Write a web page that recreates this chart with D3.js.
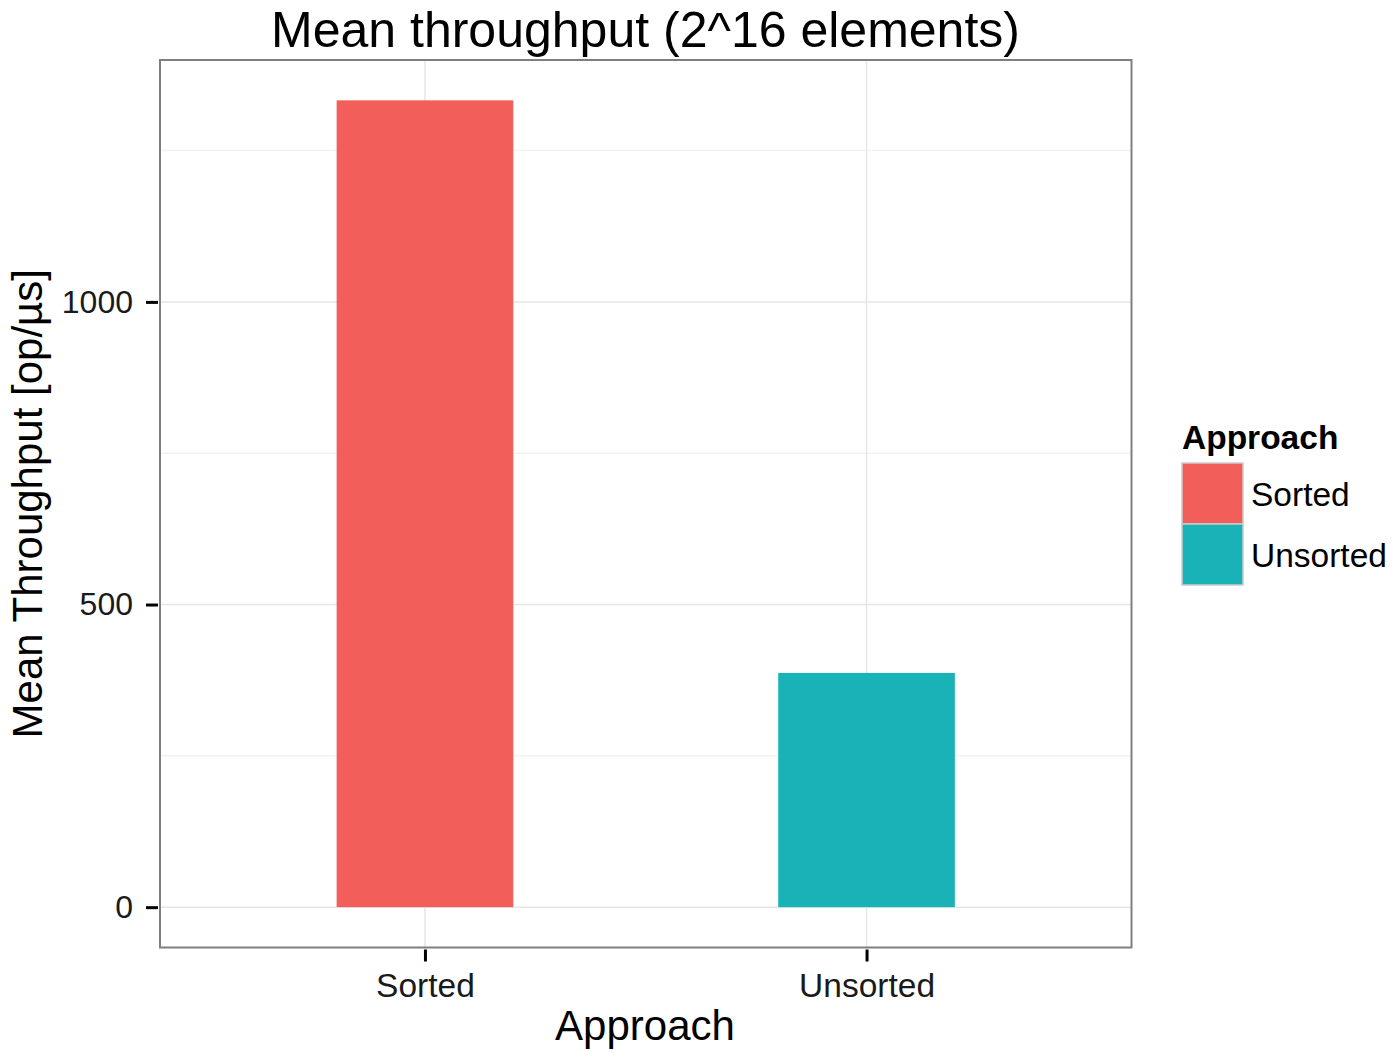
<!DOCTYPE html>
<html><head><meta charset="utf-8">
<script src="https://cdn.jsdelivr.net/npm/d3@7"></script>
<style>body{margin:0;background:#fff;} text{font-family:"Liberation Sans",Arial,sans-serif;}</style>
</head><body>
<svg id="chart" width="1393" height="1052"></svg>
<script>
const categories = ["Sorted", "Unsorted"];
const values = [1333, 387];
const colors = ["#F25F5A", "#19B3B7"];
const yTicks = [0, 500, 1000];
const yMinor = [250, 750, 1250];
const title = "Mean throughput (2^16 elements)";
const xTitle = "Approach";
const yTitle = "Mean Throughput [op/µs]";
const legendTitle = "Approach";

const svg = d3.select("#chart");
const L = 160, R = 1131.5, T = 60, B = 947.5;

const maxV = d3.max(values);
const y = d3.scaleLinear().domain([-0.05 * maxV, maxV * 1.05]).range([B, T]);
// discrete axis with 0.6 expansion
const xc = d3.scaleLinear().domain([0.4, categories.length + 0.6]).range([L, R]);
const x = c => xc(categories.indexOf(c) + 1);
const barW = xc(0.9) - xc(0.5);

const g = svg.append("g");
// minor grid
g.selectAll(".minor").data(yMinor).join("line")
  .attr("x1", L).attr("x2", R).attr("y1", d => y(d)).attr("y2", d => y(d))
  .attr("stroke", "#f3f3f3").attr("stroke-width", 1.5);
// major grid
g.selectAll(".major").data(yTicks).join("line")
  .attr("x1", L).attr("x2", R).attr("y1", d => y(d)).attr("y2", d => y(d))
  .attr("stroke", "#e6e6e6").attr("stroke-width", 1.5);
g.selectAll(".vmajor").data(categories).join("line")
  .attr("x1", d => x(d)).attr("x2", d => x(d)).attr("y1", T).attr("y2", B)
  .attr("stroke", "#e6e6e6").attr("stroke-width", 1.5);

// bars
g.selectAll(".bar").data(categories).join("rect")
  .attr("x", d => x(d) - barW / 2).attr("width", barW)
  .attr("y", (d, i) => y(values[i])).attr("height", (d, i) => y(0) - y(values[i]))
  .attr("fill", (d, i) => colors[i]);

// panel border
svg.append("rect").attr("x", L).attr("y", T).attr("width", R - L).attr("height", B - T)
  .attr("fill", "none").attr("stroke", "#7f7f7f").attr("stroke-width", 2);

// y axis
const yAxis = d3.axisLeft(y).tickValues(yTicks).tickSize(12).tickPadding(13).tickFormat(d3.format("d"));
const ya = svg.append("g").attr("transform", `translate(${L - 2},0)`).call(yAxis);
ya.select(".domain").remove();
ya.selectAll(".tick line").attr("stroke", "#000").attr("stroke-width", 3);
ya.selectAll(".tick text").attr("font-size", 32).attr("fill", "#1a1a1a")
  .attr("font-family", "Liberation Sans, Arial, sans-serif");

// x axis
const xAxis = d3.axisBottom(xc).tickValues(categories.map((c, i) => i + 1))
  .tickFormat(d => categories[d - 1]).tickSize(12).tickPadding(12);
const xa = svg.append("g").attr("transform", `translate(0,${B + 2})`).call(xAxis);
xa.select(".domain").remove();
xa.selectAll(".tick line").attr("stroke", "#000").attr("stroke-width", 3);
xa.selectAll(".tick text").attr("font-size", 33.5).attr("fill", "#1a1a1a")
  .attr("font-family", "Liberation Sans, Arial, sans-serif");

// titles
svg.append("text").attr("x", 645.5).attr("y", 47).attr("text-anchor", "middle")
  .attr("font-size", 50).attr("fill", "#000").text(title);
svg.append("text").attr("x", 645).attr("y", 1040).attr("text-anchor", "middle")
  .attr("font-size", 42).attr("fill", "#000").text(xTitle);
svg.append("text").attr("transform", `translate(42,${(T + B) / 2}) rotate(-90)`).attr("text-anchor", "middle")
  .attr("font-size", 42).attr("fill", "#000").text(yTitle);

// legend
const lg = svg.append("g").attr("transform", "translate(1182,0)");
lg.append("text").attr("x", 0).attr("y", 449).attr("font-size", 33.5).attr("font-weight", "bold")
  .attr("fill", "#000").text(legendTitle);
const keyH = 61;
lg.selectAll(".key").data(categories).join("rect")
  .attr("x", 0).attr("y", (d, i) => 463 + i * keyH).attr("width", 61).attr("height", keyH)
  .attr("fill", (d, i) => colors[i]).attr("stroke", "#cccccc").attr("stroke-width", 1.5);
lg.selectAll(".klab").data(categories).join("text")
  .attr("x", 69).attr("y", (d, i) => 506 + i * keyH).attr("font-size", 33.5).attr("fill", "#000")
  .text(d => d);
</script>
</body></html>
